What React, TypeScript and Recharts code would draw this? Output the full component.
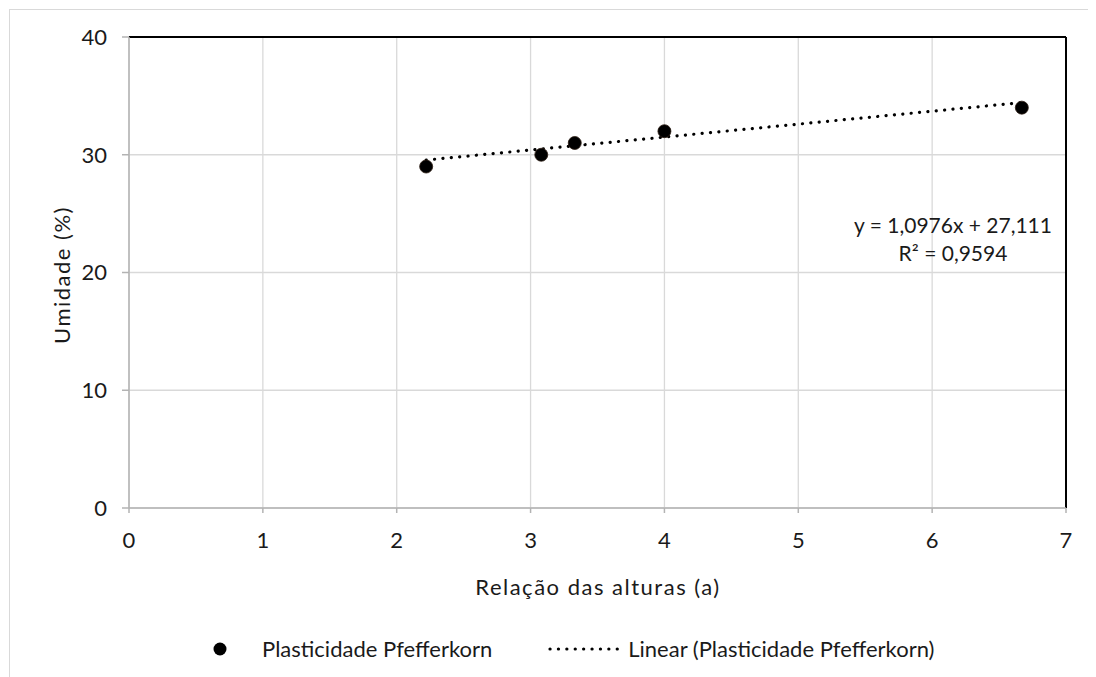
import React from "react";
import {
  CartesianGrid,
  ComposedChart,
  Line,
  ReferenceLine,
  Scatter,
  XAxis,
  YAxis,
} from "recharts";

// Relação das alturas (a) vs Umidade (%)
const alturas = [2.22, 3.08, 3.33, 4.0, 6.67];
const umidade = [29, 30, 31, 32, 34];

const xTicks = [0, 1, 2, 3, 4, 5, 6, 7];
const yTicks = [0, 10, 20, 30, 40];

// linear trendline as printed on the chart
const slope = 1.0976;
const intercept = 27.111;
const trendX = [alturas[0], alturas[alturas.length - 1]];

const points = alturas.map((x, i) => ({ x, y: umidade[i] }));
const trend = trendX.map((x) => ({ x, y: slope * x + intercept }));

const font = "Lato, 'Open Sans', sans-serif";
const textColor = "#1a1a1a";

export default function App() {
  return (
    <div
      style={{
        position: "relative",
        width: 1088,
        height: 669,
        overflow: "hidden",
        fontFamily: font,
        color: textColor,
      }}
    >
      <div
        style={{
          position: "absolute",
          left: 1,
          top: 1,
          width: 1200,
          height: 800,
          border: "1px solid #d9d9d9",
        }}
      />
      <ComposedChart
        width={1088}
        height={669}
        margin={{ top: 29, right: 30, bottom: 129, left: 0 }}
        style={{ position: "absolute", left: 0, top: 0 }}
      >
        <CartesianGrid stroke="#d9d9d9" strokeWidth={1.3} />
        <XAxis
          dataKey="x"
          type="number"
          domain={[0, 7]}
          ticks={xTicks}
          height={40}
          stroke="#b3b3b3"
          strokeWidth={1.5}
          tickSize={5}
          tickMargin={19}
          tick={{ fill: textColor, fontSize: 22, fontFamily: font }}
        />
        <YAxis
          dataKey="y"
          type="number"
          domain={[0, 40]}
          ticks={yTicks}
          width={121}
          stroke="#b3b3b3"
          strokeWidth={1.5}
          tickSize={7}
          tickMargin={15}
          tick={{ fill: textColor, fontSize: 22, fontFamily: font }}
        />
        <ReferenceLine y={40} stroke="#000" strokeWidth={2} />
        <ReferenceLine x={7} stroke="#000" strokeWidth={2} />
        <Line
          data={trend}
          dataKey="y"
          stroke="#000"
          strokeWidth={3.2}
          strokeDasharray="0.1 8.3"
          strokeLinecap="round"
          dot={false}
          activeDot={false}
          isAnimationActive={false}
          name="Linear (Plasticidade Pfefferkorn)"
        />
        <Scatter
          data={points}
          dataKey="y"
          fill="#000"
          shape={(p: any) => (
            <circle cx={p.cx} cy={p.cy} r={6.5} fill="#000" stroke="#2a1a10" strokeWidth={0.8} />
          )}
          isAnimationActive={false}
          name="Plasticidade Pfefferkorn"
        />
      </ComposedChart>

      {/* trendline equation */}
      <div
        style={{
          position: "absolute",
          left: 845 - 8,
          top: 211 - 8,
          width: 216,
          textAlign: "center",
          fontSize: 21,
          lineHeight: "28px",
        }}
      >
        <div>y = 1,0976x + 27,111</div>
        <div>R² = 0,9594</div>
      </div>

      {/* axis titles */}
      <div
        style={{
          position: "absolute",
          left: 390,
          top: 565,
          width: 400,
          textAlign: "center",
          fontSize: 22,
          letterSpacing: 1.5,
          lineHeight: "28px",
        }}
      >
        Relação das alturas (a)
      </div>
      <div
        style={{
          position: "absolute",
          left: 54 - 100,
          top: 267 - 14,
          width: 200,
          textAlign: "center",
          fontSize: 22,
          letterSpacing: 1.5,
          lineHeight: "28px",
          transform: "rotate(-90deg)",
        }}
      >
        Umidade (%)
      </div>

      {/* legend */}
      <div
        style={{
          position: "absolute",
          left: 205,
          top: 627,
          height: 28,
          display: "flex",
          alignItems: "center",
          fontSize: 22,
          lineHeight: "28px",
          whiteSpace: "nowrap",
        }}
      >
        <svg width={14} height={14} style={{ marginRight: 35 }}>
          <circle cx={7} cy={7} r={6.5} fill="#000" />
        </svg>
        <span>Plasticidade Pfefferkorn</span>
        <svg width={72} height={10} style={{ marginLeft: 56, marginRight: 8 }}>
          <line
            x1={2}
            y1={5}
            x2={70}
            y2={5}
            stroke="#000"
            strokeWidth={3.2}
            strokeDasharray="0.1 8.3"
            strokeLinecap="round"
          />
        </svg>
        <span>Linear (Plasticidade Pfefferkorn)</span>
      </div>
    </div>
  );
}
